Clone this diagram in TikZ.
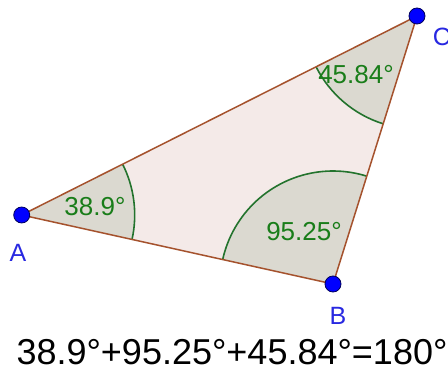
\documentclass[tikz,border=0pt]{standalone}
\usepackage{fontspec}
\setmainfont{Liberation Sans}
\usetikzlibrary{calc}
\definecolor{trifill}{RGB}{244,234,232}
\definecolor{secfill}{RGB}{219,217,208}
\definecolor{edgecol}{RGB}{165,82,45}
\definecolor{arccol}{RGB}{35,115,45}
\definecolor{angtext}{RGB}{25,125,25}
\definecolor{ptblue}{RGB}{0,0,255}
\definecolor{ptline}{RGB}{0,0,90}
\definecolor{lblblue}{RGB}{40,40,225}
\tikzset{
  edge/.style={draw=edgecol, line width=1.5pt},
  arcline/.style={draw=arccol, line width=1.6pt},
  sector/.style={fill=secfill},
  angtxt/.style={text=angtext, font=\fontsize{26}{30}\selectfont, inner sep=0pt},
  ptlbl/.style={text=lblblue, font=\fontsize{25}{30}\selectfont, inner sep=0pt},
  ptdot/.style={circle, fill=ptblue, draw=ptline, line width=0.8pt, minimum size=16pt, inner sep=0pt},
}
\begin{document}
\begin{tikzpicture}[x=1pt,y=1pt]
\useasboundingbox[fill=white] (0,0) rectangle (448,378);
\coordinate (A) at (21.7,163);
\coordinate (B) at (333,94);
\coordinate (C) at (417,362);
% triangle fill
\fill[trifill] (A) -- (B) -- (C) -- cycle;
% sectors
\foreach \P/\Q/\R in {A/B/C, B/C/A, C/A/B}{
  \path[sector] let \p1=($(\Q)-(\P)$), \p2=($(\R)-(\P)$),
      \n1={atan2(\y1,\x1)}, \n2={atan2(\y2,\x2)} in
      (\P) -- ++(\n1:113pt) arc[start angle=\n1, end angle=\n2, radius=113pt] -- cycle;
  \path[arcline] let \p1=($(\Q)-(\P)$), \p2=($(\R)-(\P)$),
      \n1={atan2(\y1,\x1)}, \n2={atan2(\y2,\x2)} in
      ($(\P)+(\n1:113pt)$) arc[start angle=\n1, end angle=\n2, radius=113pt];
}
% edges
\draw[edge] (A) -- (B) -- (C) -- cycle;
% angle labels
\node[angtxt] (la) at (95,171) {38.9°};
\node[angtxt] (lb) at (304,146) {95.25°};
\node[angtxt] (lc) at (356,303) {45.84°};
% points
\node[ptdot] (pA) at (A) {};
\node[ptdot] (pB) at (B) {};
\node[ptdot] (pC) at (C) {};
\node[ptlbl] (nA) at (18,125) {A};
\node[ptlbl] (nB) at (338,62) {B};
\node[ptlbl] (nC) at (442,341) {C};
% sum
\node[inner sep=0pt, font=\fontsize{36}{40}\selectfont] (sum) at (232,26) {38.9°+95.25°+45.84°=180°};
\end{tikzpicture}
\end{document}
